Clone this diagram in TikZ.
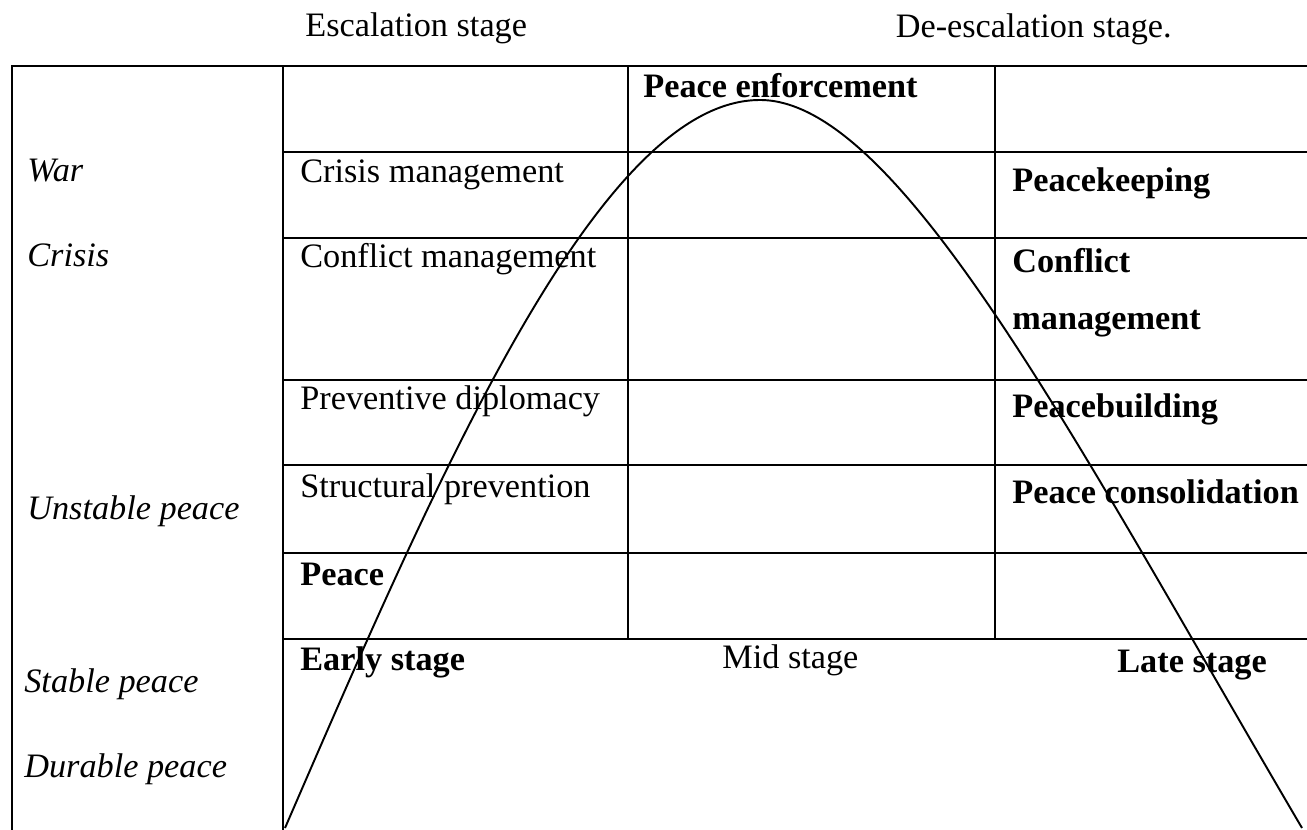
\documentclass[tikz,border=0pt]{standalone}
\usepackage{fontspec}
\setmainfont{Liberation Serif}
\begin{document}
\begin{tikzpicture}[
    x=0.02cm, y=-0.02cm,
    every node/.style={inner sep=0pt, anchor=base west, font=\fontsize{19.5}{23}\selectfont},
    rule/.style={line width=1.6pt},
    lvl/.style={font=\fontsize{19.5}{23}\selectfont\itshape},
    bld/.style={font=\fontsize{19.5}{23}\selectfont\bfseries}
]
    \useasboundingbox (0,0) rectangle (1307,830);

    % Stage headings
    \node (escal) at (305,37) {Escalation stage};
    \node[anchor=base east] (deescal) at (1172,38) {De-escalation stage.};

    % Table frame
    \draw[rule] (12,830) -- (12,66) -- (1307,66);
    \draw[rule] (283,66) -- (283,830);
    \foreach \x in {628,995}
        \draw[rule] (\x,66) -- (\x,639);
    \foreach \y in {152,238,380,465,553,639}
        \draw[rule] (283,\y) -- (1307,\y);

    % Conflict curve
    \coordinate (start) at (285,828);
    \coordinate (top) at (760,100);
    \coordinate (end) at (1302,828);
    \draw[line width=1.1pt] (start) .. controls (440,470) and (600,100) .. (top)
        .. controls (900,100) and (1080,450) .. (end);

    % Levels of conflict
    \node[lvl] (war) at (27,182) {War};
    \node[lvl] (crisis) at (27,267) {Crisis};
    \node[lvl] (unstable) at (27,520) {Unstable peace};
    \node[lvl] (stable) at (24,692) {Stable peace};
    \node[lvl] (durable) at (24,777) {Durable peace};

    % Early stage column
    \node (crismgmt) at (300,183) {Crisis management};
    \node (confmgmt) at (300,268) {Conflict management};
    \node (prevdipl) at (300,410) {Preventive diplomacy};
    \node (structprev) at (300,498) {Structural prevention};
    \node[bld] (peace) at (300,585) {Peace};
    \node[bld] (early) at (300,670) {Early stage};

    % Mid stage column
    \node[bld] (enforce) at (643,98) {Peace enforcement};
    \node (mid) at (722,668) {Mid stage};

    % Late stage column
    \node[bld] (keeping) at (1012,192) {Peacekeeping};
    \node[bld] (conflict) at (1012,273) {Conflict};
    \node[bld] (mgmt) at (1012,330) {management};
    \node[bld] (building) at (1012,418) {Peacebuilding};
    \node[bld] (consol) at (1012,503) {Peace consolidation};
    \node[bld] (late) at (1117,672) {Late stage};
\end{tikzpicture}
\end{document}
